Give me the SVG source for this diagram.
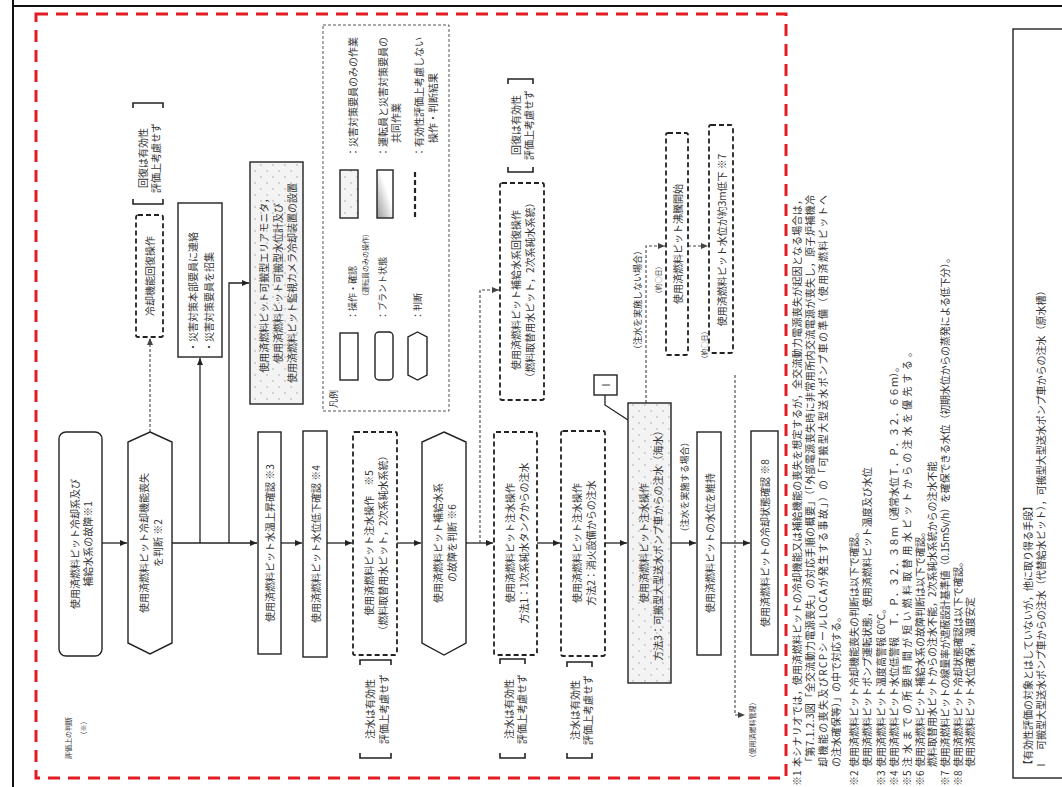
<svg xmlns="http://www.w3.org/2000/svg" width="1062" height="787" viewBox="0 0 1062 787">
<defs>
<style>
.t{font-family:"Noto Sans CJK JP","Noto Sans",sans-serif;font-size:10px;fill:#333;text-anchor:middle;dominant-baseline:central}
.s{text-anchor:start}
.sm{font-size:9px}
.xs{font-size:7px}
.nt{font-size:10px}
.box{fill:#fff;stroke:#222;stroke-width:1.4}
.dbox{fill:#fff;stroke:#222;stroke-width:1.8;stroke-dasharray:5 3}
.conn{fill:none;stroke:#222;stroke-width:1.3}
.dconn{fill:none;stroke:#444;stroke-width:1.1;stroke-dasharray:3 2}
.br{fill:none;stroke:#222;stroke-width:1.6}
</style>
<pattern id="dots" width="12" height="12" patternUnits="userSpaceOnUse"><rect width="12" height="12" fill="#f3f3f3"/><circle cx="3" cy="3" r="0.7" fill="#999"/><circle cx="9" cy="9" r="0.7" fill="#999"/></pattern>
<linearGradient id="grad" x1="0" y1="1" x2="1" y2="0"><stop offset="0" stop-color="#999"/><stop offset="0.6" stop-color="#fff"/></linearGradient>
<marker id="ah" markerWidth="8" markerHeight="8" refX="7" refY="4" orient="auto" markerUnits="userSpaceOnUse"><path d="M0,1 L7,4 L0,7 z" fill="#222"/></marker>
<marker id="ahd" markerWidth="8" markerHeight="8" refX="7" refY="4" orient="auto" markerUnits="userSpaceOnUse"><path d="M0,1 L7,4 L0,7 z" fill="#444"/></marker>
</defs>
<rect width="1062" height="787" fill="#fff"/>
<path d="M13,0 V787 M13,6 H1062" fill="none" stroke="#111" stroke-width="2"/>
<rect x="36" y="14" width="750" height="764" fill="none" stroke="#e31c23" stroke-width="3" stroke-dasharray="12 8"/>

<g id="connectors">
<path class="conn" d="M102,543 H127" marker-end="url(#ah)"/>
<path class="conn" d="M172,543 H257" marker-end="url(#ah)"/>
<path class="conn" d="M200,543 V358" marker-end="url(#ah)"/>
<path class="conn" d="M229,543 V283 H249" marker-end="url(#ah)"/>
<path class="dconn" d="M150,432 V338" marker-end="url(#ahd)"/>
<path class="conn" d="M281,543 H302" marker-end="url(#ah)"/>
<path class="conn" d="M327,543 H352" marker-end="url(#ah)"/>
<path class="conn" d="M397,543 H421" marker-end="url(#ah)"/>
<path class="conn" d="M466,543 H493" marker-end="url(#ah)"/>
<path class="dconn" d="M480,543 V290 H499" marker-end="url(#ahd)"/>
<path class="conn" d="M537,543 H560" marker-end="url(#ah)"/>
<path class="conn" d="M605,543 H627" marker-end="url(#ah)"/>
<path class="conn" d="M671,543 H696" marker-end="url(#ah)"/>
<path class="conn" d="M721,543 H750" marker-end="url(#ah)"/>
<path class="dconn" d="M646,403 V246 H665" marker-end="url(#ahd)"/>
<path class="dconn" d="M688,246 H708" marker-end="url(#ahd)"/>
<path class="dconn" d="M735,375 V715 H745" marker-end="url(#ahd)"/>
<path class="conn" d="M605,395 V405 L628,420"/>
</g>

<g id="n1">
<rect class="box" x="59" y="432" width="43" height="224" rx="7"/>
<text class="t" transform="translate(80.5,544) rotate(-90)"><tspan x="0" y="-6.5">使用済燃料ピット冷却系及び</tspan><tspan x="0" y="6.5">補給水系の故障※1</tspan></text>
</g>
<g id="n2">
<polygon class="box" points="150,432 172,442 172,643 150,654 128,643 128,442"/>
<text class="t" transform="translate(150,543) rotate(-90)"><tspan x="0" y="-7">使用済燃料ピット冷却機能喪失</tspan><tspan x="0" y="7">を判断 ※2</tspan></text>
</g>
<g id="n-recover1">
<rect class="dbox" x="136" y="215" width="27" height="122" rx="2"/>
<text class="t" transform="translate(149.5,276) rotate(-90)">冷却機能回復操作</text>
</g>
<g id="b-recover1">
<path class="br" d="M133,108 V103 H163 V108 M133,199 V204 H163 V199"/>
<text class="t" transform="translate(148,158) rotate(-90)"><tspan x="0" y="-6.5">回復は有効性</tspan><tspan x="0" y="6.5">評価上考慮せず</tspan></text>
</g>
<g id="n-contact">
<rect class="box" x="178" y="203" width="44" height="154"/>
<text class="t s" transform="translate(200,352) rotate(-90)"><tspan x="0" y="-8">・災害対策本部要員に連絡</tspan><tspan x="0" y="8">・災害対策要員を招集</tspan></text>
</g>
<g id="n-setup">
<rect x="250" y="162" width="53" height="242" fill="url(#dots)" stroke="#222" stroke-width="1.4"/>
<text class="t" transform="translate(276.5,283) rotate(-90)"><tspan x="0" y="-14">使用済燃料ピット可搬型エリアモニタ，</tspan><tspan x="0" y="0">使用済燃料ピット可搬型水位計及び</tspan><tspan x="0" y="14">使用済燃料ピット監視カメラ冷却装置の設置</tspan></text>
</g>
<g id="n3">
<rect class="box" x="258" y="432" width="23" height="222"/>
<text class="t" transform="translate(269.5,543) rotate(-90)">使用済燃料ピット水温上昇確認 ※3</text>
</g>
<g id="n4">
<rect class="box" x="303" y="431" width="24" height="226"/>
<text class="t" transform="translate(315,544) rotate(-90)">使用済燃料ピット水位低下確認 ※4</text>
</g>
<g id="n5">
<rect class="dbox" x="353" y="432" width="44" height="223" rx="2"/>
<text class="t" transform="translate(375,543) rotate(-90)"><tspan x="0" y="-7">使用済燃料ピット注水操作　※5</tspan><tspan x="0" y="7">（燃料取替用水ピット，2次系純水系統）</tspan></text>
</g>
<g id="b5">
<path class="br" d="M360,665 V660 H391 V665 M360,753 V758 H391 V753"/>
<text class="t" transform="translate(375.5,709) rotate(-90)"><tspan x="0" y="-7">注水は有効性</tspan><tspan x="0" y="7">評価上考慮せず</tspan></text>
</g>
<g id="n6">
<polygon class="box" points="444,432 466,442 466,643 444,655 422,643 422,442"/>
<text class="t" transform="translate(444,543) rotate(-90)"><tspan x="0" y="-7">使用済燃料ピット補給水系</tspan><tspan x="0" y="7">の故障を判断 ※6</tspan></text>
</g>
<g id="n-recover2">
<rect class="dbox" x="500" y="183" width="44" height="217" rx="2"/>
<text class="t" transform="translate(522,290) rotate(-90)"><tspan x="0" y="-7">使用済燃料ピット補給水系回復操作</tspan><tspan x="0" y="7">（燃料取替用水ピット，2次系純水系統）</tspan></text>
</g>
<g id="b-recover2">
<path class="br" d="M508,84 V79 H533 V84 M508,167 V172 H533 V167"/>
<text class="t" transform="translate(521,125) rotate(-90)"><tspan x="0" y="-6.5">回復は有効性</tspan><tspan x="0" y="6.5">評価上考慮せず</tspan></text>
</g>
<g id="n7">
<rect class="dbox" x="494" y="432" width="43" height="223" rx="2"/>
<text class="t" transform="translate(515.5,543) rotate(-90)"><tspan x="0" y="-7">使用済燃料ピット注水操作</tspan><tspan x="0" y="7">方法1：1次系純水タンクからの注水</tspan></text>
</g>
<g id="b7">
<path class="br" d="M500,664 V659 H525 V664 M500,753 V758 H525 V753"/>
<text class="t" transform="translate(514.5,709) rotate(-90)"><tspan x="0" y="-6.5">注水は有効性</tspan><tspan x="0" y="6.5">評価上考慮せず</tspan></text>
</g>
<g id="n8">
<rect class="dbox" x="561" y="431" width="44" height="225" rx="2"/>
<text class="t" transform="translate(583,543) rotate(-90)"><tspan x="0" y="-7">使用済燃料ピット注水操作</tspan><tspan x="0" y="7">方法2：消火設備からの注水</tspan></text>
</g>
<g id="b8">
<path class="br" d="M567,667 V662 H592 V667 M567,753 V758 H592 V753"/>
<text class="t" transform="translate(580.5,710) rotate(-90)"><tspan x="0" y="-6.5">注水は有効性</tspan><tspan x="0" y="6.5">評価上考慮せず</tspan></text>
</g>
<g id="n-I">
<rect class="box" x="594" y="375" width="23" height="20"/>
<text class="t" transform="translate(605.5,385) rotate(-90)">Ⅰ</text>
</g>
<g id="n9">
<rect x="628" y="403" width="43" height="280" fill="url(#dots)" stroke="#222" stroke-width="1.4"/>
<text class="t" transform="translate(649.5,543) rotate(-90)"><tspan x="0" y="-7">使用済燃料ピット注水操作</tspan><tspan x="0" y="7">方法3：可搬型大型送水ポンプ車からの注水（海水）</tspan></text>
</g>
<g id="lbl-no">
<text class="t sm" transform="translate(637,300) rotate(-90)">（注水を実施しない場合）</text>
</g>
<g id="lbl-yes">
<text class="t sm" transform="translate(684,487) rotate(-90)">（注水を実施する場合）</text>
</g>
<g id="n-boil">
<rect class="dbox" x="666" y="133" width="22" height="222" rx="2"/>
<text class="t" transform="translate(677,244) rotate(-90)">使用済燃料ピット沸騰開始</text>
<text class="t xs" transform="translate(658,280) rotate(-90)">（約○日）</text>
</g>
<g id="n-level">
<rect class="dbox" x="709" y="125" width="24" height="228" rx="2"/>
<text class="t" transform="translate(721,240) rotate(-90)">使用済燃料ピット水位が約3m低下 ※7</text>
<text class="t xs" transform="translate(704,345) rotate(-90)">（約○日）</text>
</g>
<g id="n10">
<rect class="box" x="697" y="432" width="24" height="223"/>
<text class="t" transform="translate(709,543) rotate(-90)">使用済燃料ピットの水位を維持</text>
</g>
<g id="n11">
<rect class="box" x="751" y="431" width="27" height="224"/>
<text class="t" transform="translate(764.5,543) rotate(-90)">使用済燃料ピットの冷却状態確認 ※8</text>
</g>
<g id="lbl-end">
<text class="t xs" transform="translate(752,730) rotate(-90)">（使用済燃料管理）</text>
</g>
<g id="lbl-eval">
<text class="t xs" transform="translate(68,738) rotate(-90)">評価上の判断</text>
<text class="t xs" transform="translate(83,728) rotate(-90)">（※）</text>
</g>

<g id="legend">
<rect x="323" y="25" width="126" height="386" fill="none" stroke="#555" stroke-width="1" stroke-dasharray="3 2"/>
<text class="t s sm" transform="translate(333,408) rotate(-90)">凡例</text>
<rect class="box" x="340" y="333" width="18" height="47"/>
<text class="t s sm" transform="translate(352,320) rotate(-90)">：操作・確認</text>
<text class="t s xs" transform="translate(365,300) rotate(-90)">（運転員のみの操作）</text>
<rect x="340" y="170" width="18" height="48" fill="url(#dots)" stroke="#222" stroke-width="1.4"/>
<text class="t s" transform="translate(352,157) rotate(-90)">：災害対策要員のみの作業</text>
<rect class="box" x="375" y="332" width="18" height="48" rx="4"/>
<text class="t s sm" transform="translate(382,320) rotate(-90)">：プラント状態</text>
<rect x="377" y="170" width="16" height="48" fill="url(#grad)" stroke="#222" stroke-width="1.4"/>
<text class="t s" transform="translate(382,157) rotate(-90)">：運転員と災害対策要員の</text>
<text class="t s" transform="translate(395,143) rotate(-90)">共同作業</text>
<polygon class="box" points="417.5,332 427,337 427,375 417.5,380 408,375 408,337"/>
<text class="t s sm" transform="translate(417,320) rotate(-90)">：判断</text>
<line x1="415" y1="172" x2="415" y2="217" stroke="#222" stroke-width="2.2" stroke-dasharray="5 3"/>
<text class="t s" transform="translate(418,157) rotate(-90)">：有効性評価上考慮しない</text>
<text class="t s" transform="translate(432,143) rotate(-90)">操作・判断結果</text>
</g>

<g id="notes">
<text class="t s nt" transform="translate(796,786) rotate(-90)">※1</text>
<text class="t s nt" transform="translate(796,767) rotate(-90)" textLength="572" lengthAdjust="spacing">本シナリオでは，使用済燃料ピットの冷却機能又は補給機能の喪失を想定するが，全交流動力電源喪失が起因となる場合は，</text>
<text class="t s nt" transform="translate(809,767) rotate(-90)" textLength="572" lengthAdjust="spacing">「第7.1.2.3図「全交流動力電源喪失」の対応手順の概要」（「外部電源喪失時に非常用所内交流電源が喪失し，原子炉補機冷</text>
<text class="t s nt" transform="translate(822,767) rotate(-90)" textLength="572" lengthAdjust="spacing">却機能の喪失及びRCPシールLOCAが発生する事故」）の「可搬型大型送水ポンプ車の準備（使用済燃料ピットへ</text>
<text class="t s nt" transform="translate(835,767) rotate(-90)">の注水確保等）」の中で対応する。</text>
<text class="t s nt" transform="translate(853,786) rotate(-90)">※2</text>
<text class="t s nt" transform="translate(853,767) rotate(-90)">使用済燃料ピット冷却機能喪失の判断は以下で確認。</text>
<text class="t s nt" transform="translate(866,767) rotate(-90)">使用済燃料ピットポンプ運転状態，使用済燃料ピット温度及び水位</text>
<text class="t s nt" transform="translate(880,786) rotate(-90)">※3</text>
<text class="t s nt" transform="translate(880,767) rotate(-90)">使用済燃料ピット温度高警報 60℃。</text>
<text class="t s nt" transform="translate(893,786) rotate(-90)">※4</text>
<text class="t s nt" transform="translate(893,767) rotate(-90)">使用済燃料ピット水位低警報　Ｔ．Ｐ．３２．３８ｍ（通常水位Ｔ．Ｐ．３２．６６ｍ）。</text>
<text class="t s nt" transform="translate(906,786) rotate(-90)">※5</text>
<text class="t s nt" transform="translate(906,767) rotate(-90)" textLength="420" lengthAdjust="spacing">注水までの所要時間が短い燃料取替用水ピットからの注水を優先する。</text>
<text class="t s nt" transform="translate(919,786) rotate(-90)">※6</text>
<text class="t s nt" transform="translate(919,767) rotate(-90)">使用済燃料ピット補給水系の故障判断は以下で確認。</text>
<text class="t s nt" transform="translate(931,767) rotate(-90)">燃料取替用水ピットからの注水不能，2次系純水系統からの注水不能</text>
<text class="t s nt" transform="translate(944,786) rotate(-90)">※7</text>
<text class="t s nt" transform="translate(944,767) rotate(-90)" textLength="514" lengthAdjust="spacing">使用済燃料ピットの線量率が遮蔽設計基準値（0.15mSv/h）を確保できる水位（初期水位からの蒸発による低下分）。</text>
<text class="t s nt" transform="translate(957,786) rotate(-90)">※8</text>
<text class="t s nt" transform="translate(957,767) rotate(-90)">使用済燃料ピット冷却状態確認は以下で確認。</text>
<text class="t s nt" transform="translate(969,767) rotate(-90)">使用済燃料ピット水位確保，温度安定</text>
</g>

<g id="other-means">
<rect x="1013" y="29" width="60" height="749" fill="none" stroke="#222" stroke-width="1.4"/>
<text class="t s" transform="translate(1027,770) rotate(-90)">【有効性評価の対象とはしていないが，他に取り得る手段】</text>
<text class="t s" transform="translate(1040,770) rotate(-90)">Ⅰ　可搬型大型送水ポンプ車からの注水（代替給水ピット），可搬型大型送水ポンプ車からの注水（原水槽）</text>
</g>
</svg>
